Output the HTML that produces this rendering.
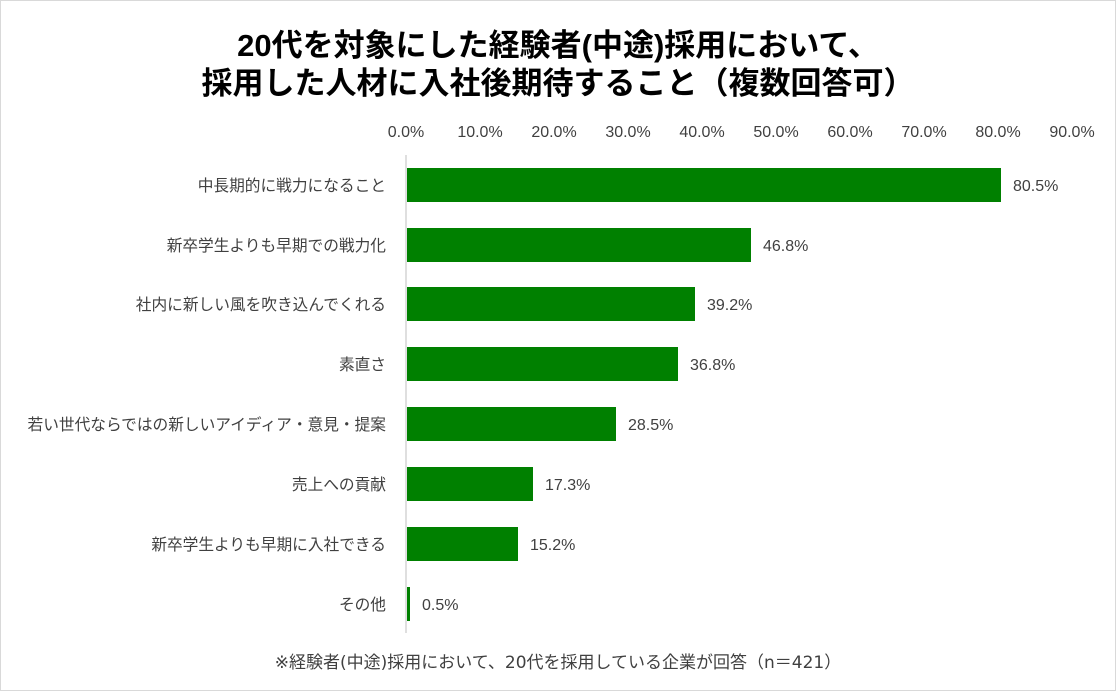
<!DOCTYPE html>
<html><head><meta charset="utf-8"><style>
body{margin:0;background:#fff;}
svg text{font-family:"Liberation Sans","Noto Sans CJK JP",sans-serif;}
svg .dv{font-family:"DejaVu Sans","Noto Sans CJK JP",sans-serif;}
</style></head><body>
<svg width="1116" height="691" viewBox="0 0 1116 691" xmlns="http://www.w3.org/2000/svg">
<rect x="0.5" y="0.5" width="1115" height="690" fill="#fff" stroke="#d9d9d9"/>
<text x="558" y="56" font-size="31" font-weight="bold" text-anchor="middle" fill="#000">20代を対象にした経験者(中途)採用において、</text>
<text x="558" y="94" font-size="31" font-weight="bold" text-anchor="middle" fill="#000">採用した人材に入社後期待すること（複数回答可）</text>
<g class="dv" font-size="16" fill="#404040" text-anchor="middle">
<text x="406" y="137">0.0%</text><text x="480" y="137">10.0%</text><text x="554" y="137">20.0%</text>
<text x="628" y="137">30.0%</text><text x="702" y="137">40.0%</text><text x="776" y="137">50.0%</text>
<text x="850" y="137">60.0%</text><text x="924" y="137">70.0%</text><text x="998" y="137">80.0%</text>
<text x="1072" y="137">90.0%</text>
</g>
<line x1="406" y1="155" x2="406" y2="633" stroke="#bfbfbf" stroke-width="1"/>
<g fill="#008000">
<rect x="407" y="168" width="594" height="34"/>
<rect x="407" y="228" width="344" height="34"/>
<rect x="407" y="287" width="288" height="34"/>
<rect x="407" y="347" width="271" height="34"/>
<rect x="407" y="407" width="209" height="34"/>
<rect x="407" y="467" width="126" height="34"/>
<rect x="407" y="527" width="111" height="34"/>
<rect x="407" y="587" width="3" height="34"/>
</g>
<g class="dv" font-size="16" fill="#404040">
<text x="1013" y="191">80.5%</text><text x="763" y="251">46.8%</text><text x="707" y="310">39.2%</text>
<text x="690" y="370">36.8%</text><text x="628" y="430">28.5%</text><text x="545" y="490">17.3%</text>
<text x="530" y="550">15.2%</text><text x="422" y="610">0.5%</text>
</g>
<g font-size="15.7" fill="#404040" text-anchor="end">
<text x="386" y="191">中長期的に戦力になること</text>
<text x="386" y="251">新卒学生よりも早期での戦力化</text>
<text x="386" y="310">社内に新しい風を吹き込んでくれる</text>
<text x="386" y="370">素直さ</text>
<text x="386" y="430">若い世代ならではの新しいアイディア・意見・提案</text>
<text x="386" y="490">売上への貢献</text>
<text x="386" y="550">新卒学生よりも早期に入社できる</text>
<text x="386" y="610">その他</text>
</g>
<text class="dv" x="558" y="668" font-size="17" fill="#404040" text-anchor="middle">※経験者(中途)採用において、20代を採用している企業が回答（n＝421）</text>
</svg>
</body></html>
